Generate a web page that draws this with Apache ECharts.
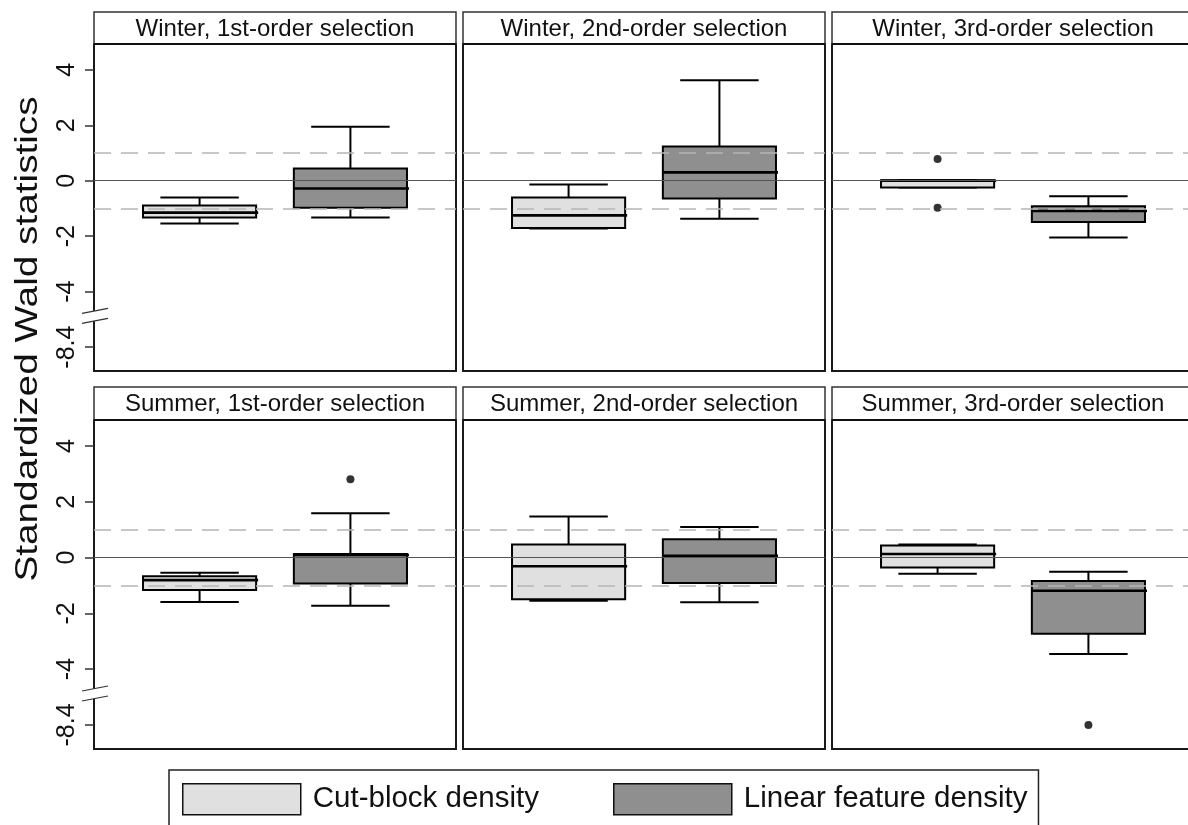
<!DOCTYPE html>
<html>
<head>
<meta charset="utf-8">
<script src="https://cdn.jsdelivr.net/npm/echarts@6/dist/echarts.min.js"></script>
<style>
html,body{margin:0;padding:0;background:#ffffff;}
#chart{width:1188px;height:825px;}
</style>
</head>
<body>
<div id="chart"></div>
<script>
// ---------------- data ----------------
const panelTitles = [
  'Winter, 1st-order selection',
  'Winter, 2nd-order selection',
  'Winter, 3rd-order selection',
  'Summer, 1st-order selection',
  'Summer, 2nd-order selection',
  'Summer, 3rd-order selection'
];
const categories = ['Cut-block density', 'Linear feature density'];

// [lower whisker, Q1, median, Q3, upper whisker]
const cutBlockStats = [
  [-1.54, -1.33, -1.15, -0.89, -0.60],
  [-1.72, -1.70, -1.25, -0.60, -0.14],
  [-0.24, -0.24,  0.00,  0.02,  0.02],
  [-1.59, -1.16, -0.81, -0.67, -0.54],
  [-1.55, -1.49, -0.31,  0.47,  1.47],
  [-0.58, -0.36,  0.13,  0.43,  0.47]
];
const linearStats = [
  [-1.33, -0.97, -0.28,  0.44,  1.95],
  [-1.37, -0.64,  0.30,  1.23,  3.62],
  [-2.05, -1.49, -1.09, -0.92, -0.56],
  [-1.73, -0.93,  0.09,  0.13,  1.59],
  [-1.60, -0.91,  0.06,  0.66,  1.10],
  [-3.46, -2.73, -1.19, -0.84, -0.51]
];
const cutBlockOutliers = [[], [], [0.78, -0.97], [], [], []];
const linearOutliers   = [[], [], [], [2.81], [], [-8.4]];

const yTickValues = [4, 2, 0, -2, -4, -8.4];
const refLineSolid = [0];
const refLinesDashed = [1, -1];

// ---------------- scale (broken axis) ----------------
const BREAK_BELOW = -5;     // values below this are shifted up
const BREAK_SHIFT = 2.4;    // so -8.4 sits where -6 would be
const BREAK_MARK = -4.87;   // where the // marks sit
function toAxis(v) { return v < BREAK_BELOW ? v + BREAK_SHIFT : v; }
const Y_MIN = -6.86, Y_MAX = 4.93;

// ---------------- layout / style ----------------
const FONT = '"Liberation Sans", Arial, Helvetica, sans-serif';
const COL_LEFT = [94, 463, 832];
const PANEL_W = 362;
const ROW_TOP = [44, 420];
const ROW_H = [327, 329];
const STRIP_TOP = [12, 387];
const X_MIN = 0.3, X_MAX = 2.7;
const BOX_WIDTH = 0.75, CAP_WIDTH = 0.52;
const FILL = ['#e0e0e0', '#8f8f8f'];

function renderBox(params, api) {
  const x = api.value(0);
  const pLo = api.coord([x, api.value(1)]);
  const pQ1 = api.coord([x, api.value(2)]);
  const pMed = api.coord([x, api.value(3)]);
  const pQ3 = api.coord([x, api.value(4)]);
  const pHi = api.coord([x, api.value(5)]);
  const halfBox = api.size([BOX_WIDTH, 0])[0] / 2;
  const halfCap = api.size([CAP_WIDTH, 0])[0] / 2;
  const cx = pMed[0];
  const ls = { stroke: '#000', lineWidth: 2 };
  return {
    type: 'group',
    children: [
      { type: 'line', shape: { x1: cx, y1: pHi[1], x2: cx, y2: pQ3[1] }, style: ls },
      { type: 'line', shape: { x1: cx, y1: pQ1[1], x2: cx, y2: pLo[1] }, style: ls },
      { type: 'line', shape: { x1: cx - halfCap, y1: pHi[1], x2: cx + halfCap, y2: pHi[1] }, style: ls },
      { type: 'line', shape: { x1: cx - halfCap, y1: pLo[1], x2: cx + halfCap, y2: pLo[1] }, style: ls },
      { type: 'rect', shape: { x: cx - halfBox, y: pQ3[1], width: 2 * halfBox, height: pQ1[1] - pQ3[1] },
        style: { fill: api.visual('color'), stroke: '#000', lineWidth: 2 } },
      { type: 'line', shape: { x1: cx - halfBox, y1: pMed[1], x2: cx + halfBox + 2, y2: pMed[1] },
        style: { stroke: '#000', lineWidth: 2.6 } }
    ]
  };
}

const grids = [], xAxes = [], yAxes = [], series = [], graphics = [];

for (let i = 0; i < 6; i++) {
  const row = Math.floor(i / 3), col = i % 3;
  const left = COL_LEFT[col];
  grids.push({
    left: left, top: ROW_TOP[row], width: PANEL_W, height: ROW_H[row],
    show: true, borderColor: '#1a1a1a', borderWidth: 2, backgroundColor: 'rgba(0,0,0,0)',
    containLabel: false, outerBoundsMode: 'none'
  });
  xAxes.push({ type: 'value', gridIndex: i, min: X_MIN, max: X_MAX, show: false });
  const isLeft = col === 0;
  yAxes.push({
    type: 'value', gridIndex: i, min: Y_MIN, max: Y_MAX,
    splitLine: { show: false },
    axisLine: { show: isLeft, lineStyle: { color: '#1a1a1a', width: 2 } },
    axisTick: { show: isLeft, length: 9, lineStyle: { color: '#333', width: 1.5 },
      customValues: yTickValues.map(toAxis) },
    axisLabel: {
      show: isLeft, rotate: 90, margin: 14,
      fontSize: 25, color: '#111', fontFamily: FONT,
      customValues: yTickValues.map(toAxis),
      formatter: function (v) {
        for (const t of yTickValues) { if (Math.abs(toAxis(t) - v) < 1e-6) return String(t); }
        return '';
      }
    }
  });

  // reference lines carrier
  series.push({
    type: 'scatter', xAxisIndex: i, yAxisIndex: i, data: [], z: 1, silent: true,
    markLine: {
      silent: true, symbol: 'none', animation: false, label: { show: false },
      data: refLineSolid.map(v => ({ yAxis: v, lineStyle: { type: 'solid', color: '#555', width: 1.2 } }))
        .concat(refLinesDashed.map(v => ({ yAxis: v, lineStyle: { type: [17, 10], color: '#b5b5b5', width: 1.6 } })))
    }
  });

  const statsSets = [cutBlockStats[i], linearStats[i]];
  const outSets = [cutBlockOutliers[i], linearOutliers[i]];
  for (let k = 0; k < 2; k++) {
    series.push({
      type: 'custom', name: categories[k], xAxisIndex: i, yAxisIndex: i, z: 2, silent: true,
      itemStyle: { color: FILL[k] },
      renderItem: renderBox,
      encode: { x: 0, y: [1, 2, 3, 4, 5] },
      data: [[k + 1].concat(statsSets[k].map(toAxis))]
    });
    series.push({
      type: 'scatter', xAxisIndex: i, yAxisIndex: i, z: 3, silent: true,
      symbol: 'circle', symbolSize: 8, itemStyle: { color: '#000' },
      data: outSets[k].map(v => [k + 1, toAxis(v)])
    });
  }

  // title strip
  graphics.push({
    type: 'rect', silent: true, z: 10,
    shape: { x: left, y: STRIP_TOP[row], width: PANEL_W, height: ROW_TOP[row] - STRIP_TOP[row] },
    style: { fill: '#fff', stroke: '#333', lineWidth: 1.5 }
  });
  graphics.push({
    type: 'line', silent: true, z: 11,
    shape: { x1: left, y1: ROW_TOP[row], x2: left + PANEL_W, y2: ROW_TOP[row] },
    style: { stroke: '#111', lineWidth: 2.2 }
  });
  graphics.push({
    type: 'text', silent: true, z: 12,
    x: left + PANEL_W / 2, y: (STRIP_TOP[row] + ROW_TOP[row]) / 2 + 1,
    style: { text: panelTitles[i], font: '24px ' + FONT, fill: '#111',
      textAlign: 'center', textVerticalAlign: 'middle' }
  });
}

// y-axis title (the original's lettering is drawn taller than wide)
graphics.push({
  type: 'text', silent: true, z: 12, x: 28, y: 339, rotation: Math.PI / 2, scaleX: 1.23,
  style: { text: 'Standardized Wald statistics', font: '31.5px ' + FONT, fill: '#111',
    textAlign: 'center', textVerticalAlign: 'middle' }
});

const option = {
  animation: false,
  backgroundColor: '#fff',
  grid: grids, xAxis: xAxes, yAxis: yAxes, series: series,
  legend: {
    left: 169, top: 770, orient: 'horizontal',
    padding: [13, 11, 13, 13],
    borderColor: '#222', borderWidth: 1.5,
    itemWidth: 118, itemHeight: 31, itemGap: 74,
    selectedMode: false,
    textStyle: { fontSize: 29.5, fontFamily: FONT, color: '#111', padding: [0, 0, 0, 7] },
    data: categories.map((c, k) => ({ name: c, icon: 'rect',
      itemStyle: { color: FILL[k], borderColor: '#111', borderWidth: 1.5 } }))
  },
  graphic: { elements: graphics }
};

const chart = echarts.init(document.getElementById('chart'), null, { renderer: 'canvas' });
chart.setOption(option);

// axis break marks on the leftmost panels
const breakEls = [];
[0, 3].forEach(function (g) {
  const yc = chart.convertToPixel({ yAxisIndex: g }, BREAK_MARK);
  const ax = COL_LEFT[g % 3];
  const x0 = ax - 12, x1 = ax + 14;
  breakEls.push({
    type: 'polygon', silent: true, z: 20,
    shape: { points: [[x0, yc - 2.5], [x1, yc - 7.5], [x1, yc + 2.5], [x0, yc + 7.5]] },
    style: { fill: '#fff' }
  });
  breakEls.push({ type: 'line', silent: true, z: 21,
    shape: { x1: x0, y1: yc - 2.5, x2: x1, y2: yc - 7.5 }, style: { stroke: '#333', lineWidth: 1.2 } });
  breakEls.push({ type: 'line', silent: true, z: 21,
    shape: { x1: x0, y1: yc + 7.5, x2: x1, y2: yc + 2.5 }, style: { stroke: '#333', lineWidth: 1.2 } });
});
option.graphic = { elements: graphics.concat(breakEls) };
chart.setOption(option, true);
</script>
</body>
</html>
